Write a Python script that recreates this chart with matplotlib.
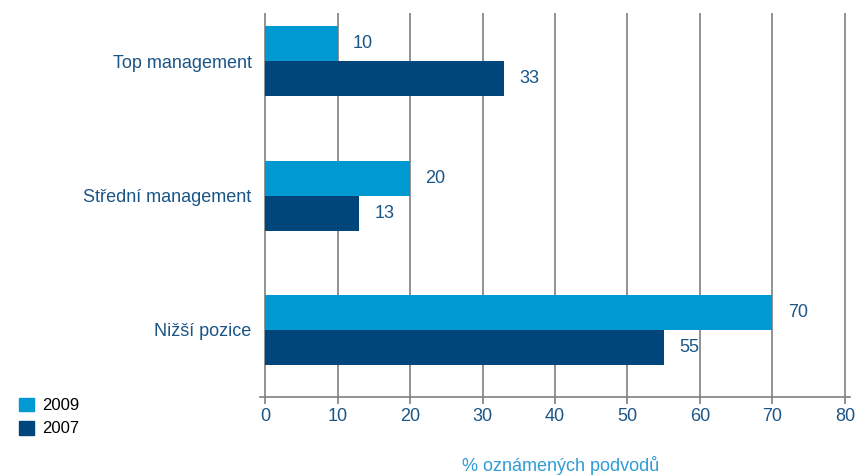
import matplotlib.pyplot as plt
import matplotlib.patches as mpatches
import numpy as np

# --- Data ---
categories = ["Nižší pozice", "Střední management", "Top management"]
values_2009 = [70, 20, 10]
values_2007 = [55, 13, 33]
series_labels = ["2009", "2007"]
x_ticks = [0, 10, 20, 30, 40, 50, 60, 70, 80]

color_2009 = "#0099D1"
color_2007 = "#00467B"
text_blue = "#1B5587"
grid_gray = "#7F7F7F"

plt.rcParams["font.family"] = ["Liberation Sans", "DejaVu Sans"]

fig = plt.figure(figsize=(8.59, 4.75), dpi=100)
ax = fig.add_axes([0.3027, 0.1642, 0.6868, 0.8084])

y = np.arange(len(categories))
h = 0.26

bars09 = ax.barh(y + h / 2, values_2009, height=h, color=color_2009, zorder=3)
bars07 = ax.barh(y - h / 2, values_2007, height=h, color=color_2007, zorder=3)

# value labels next to the bar ends
for bars, vals in ((bars09, values_2009), (bars07, values_2007)):
    for b, v in zip(bars, vals):
        ax.annotate(f"{v}", (v, b.get_y() + b.get_height() / 2),
                    xytext=(11, 0), textcoords="offset points",
                    ha="left", va="center", fontsize=13, color=text_blue)

ax.set_xlim(-0.7, 80.7)
ax.set_ylim(-0.5, 2.36)
ax.set_xticks(x_ticks)
ax.set_xticklabels([str(t) for t in x_ticks], fontsize=13, color=text_blue)
ax.set_yticks(y)
ax.set_yticklabels(categories, fontsize=13, color=text_blue)
ax.tick_params(axis="y", length=0, pad=6)
ax.tick_params(axis="x", length=5, width=1.2, color=grid_gray, pad=3)

for t in x_ticks:
    ax.axvline(t, color=grid_gray, lw=1.2, zorder=1)

for s in ("top", "right", "left"):
    ax.spines[s].set_visible(False)
ax.spines["bottom"].set_color(grid_gray)
ax.spines["bottom"].set_linewidth(1.2)

ax.set_xlabel("% oznámených podvodů", fontsize=13, color="#2E9CD6", labelpad=22)
ax.xaxis.label.set_x(0.51)

handles = [mpatches.Patch(color=color_2009), mpatches.Patch(color=color_2007)]
fig.legend(handles, series_labels, loc="upper left", bbox_to_anchor=(0.022, 0.163),
           frameon=False, fontsize=12, handlelength=0.9, handleheight=0.9,
           handletextpad=0.5, labelspacing=0.45, borderaxespad=0, borderpad=0)

fig.savefig("out.png", dpi=100, facecolor="white")
